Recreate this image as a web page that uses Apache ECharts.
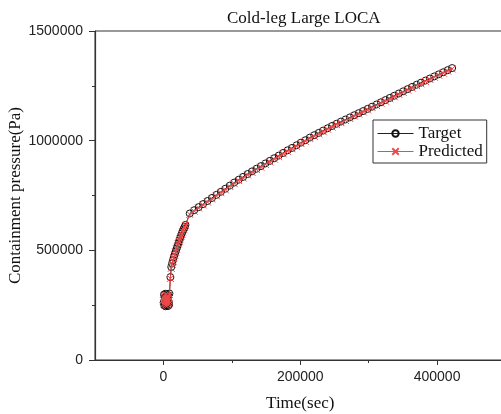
<!DOCTYPE html>
<html>
<head>
<meta charset="utf-8">
<script src="https://cdn.jsdelivr.net/npm/echarts@6/dist/echarts.min.js"></script>
<style>html,body{margin:0;padding:0;background:#fff;}#c{width:501px;height:414px;}</style>
</head>
<body>
<div id="c"></div>
<script>
var timeSec = [
  300, 800, 1300, 1800, 2300, 2800, 3300, 3800, 4300, 4800, 5300, 5800, 6300, 6800, 7300, 7800, 8300, 8800,
  10200, 11500,
  12700, 14000, 15300, 16600, 17900, 19200, 20500, 21800, 23100, 24400, 25700, 27000, 28300, 29600, 30900, 32200,
  38500, 45000, 51500, 58000, 64500, 71000, 77500, 84000, 90500, 97000,
  103500, 110000, 116500, 123000, 129500, 136000, 142500, 149000, 155500, 162000,
  168500, 175000, 181500, 188000, 194500, 201000, 207500, 214000, 220500, 227000,
  233500, 240000, 246500, 253000, 259500, 266000, 272500, 279000, 285500, 292000,
  298500, 305000, 311500, 318000, 324500, 331000, 337500, 344000, 350500, 357000,
  363500, 370000, 376500, 383000, 389500, 396000, 402500, 409000, 415500, 422000
];
var targetPa = [
  262000, 298000, 248000, 285000, 255000, 302000, 245000, 290000, 268000, 250000, 300000, 258000, 280000, 246000, 295000, 265000, 252000, 303000,
  378000, 424000,
  440000, 455000, 469000, 482000, 495000, 508000, 520000, 532000, 544000, 555000, 566000, 577000, 588000, 598000, 607000, 616000,
  668000, 683000, 697000, 711000, 725000, 739000, 753000, 767000, 781000, 795000,
  809000, 822000, 835000, 848000, 860000, 872000, 884000, 896000, 908000, 920000,
  932000, 944000, 956000, 967000, 979000, 991000, 1002000, 1014000, 1025000, 1035500,
  1046000, 1056500, 1067000, 1077000, 1087000, 1096500, 1106000, 1116000, 1125500, 1135000,
  1145000, 1155000, 1165000, 1175000, 1185000, 1195000, 1205000, 1215000, 1225000, 1235000,
  1245000, 1255000, 1264500, 1274000, 1283500, 1293000, 1302500, 1312000, 1321500, 1331000
];
var predictedPa = [
  270000, 290000, 255000, 278000, 262000, 296000, 250000, 284000, 274000, 256000, 294000, 264000, 276000, 252000, 290000, 270000, 258000, 298000,
  372000, 418000,
  436000, 451000, 466000, 479000, 492000, 505000, 517000, 529000, 541000, 552000, 563000, 574000, 585000, 595000, 604000, 613000,
  664000, 678000, 693000, 707000, 720000, 735000, 748000, 763000, 776000, 791000,
  804000, 818000, 830000, 844000, 855000, 868000, 879000, 892000, 903000, 916000,
  927000, 940000, 951000, 963000, 974000, 987000, 997000, 1010000, 1020000, 1031000,
  1041000, 1052000, 1062000, 1073000, 1082000, 1092000, 1101000, 1112000, 1121000, 1131000,
  1140000, 1151000, 1160000, 1171000, 1180000, 1191000, 1200000, 1211000, 1220000, 1231000,
  1240000, 1251000, 1259000, 1270000, 1279000, 1289000, 1298000, 1308000, 1317000, 1327000
];
var xMajorTicks = [0, 200000, 400000];
var xMinorTicks = [100000, 300000];
var seriesNames = ['Target', 'Predicted'];

function zip(xs, ys) { return xs.map(function (x, i) { return [x, ys[i]]; }); }
function plain(v) { return String(v); }

var serif = '"Liberation Serif", "Times New Roman", serif';
var sans = '"Liberation Sans", Arial, sans-serif';
var axisColor = '#333';
var red = '#f04848';

var chart = echarts.init(document.getElementById('c'), null, { renderer: 'canvas' });
chart.setOption({
  animation: false,
  backgroundColor: '#fff',
  title: {
    text: 'Cold-leg Large LOCA',
    left: 222, top: 5,
    textStyle: { fontFamily: serif, fontSize: 17, fontWeight: 'normal', color: '#111' }
  },
  legend: {
    orient: 'vertical',
    left: 373, top: 120,
    padding: [5, 4, 3, 4],
    itemGap: 1,
    itemWidth: 36, itemHeight: 8,
    borderColor: '#333', borderWidth: 1,
    lineStyle: { width: 1 },
    textStyle: { fontFamily: serif, fontSize: 17, color: '#111' },
    data: seriesNames
  },
  grid: {
    left: 95, top: 31, bottom: 54, right: -4.5,
    outerBoundsMode: 'none', containLabel: false,
    show: true, borderColor: axisColor, borderWidth: 1, backgroundColor: 'transparent'
  },
  xAxis: [{
    type: 'value', min: -100000, max: 500000,
    name: 'Time(sec)', nameLocation: 'middle', nameGap: 35, nameMoveOverlap: false,
    nameTextStyle: { fontFamily: serif, fontSize: 17, color: '#111' },
    axisLine: { show: true, onZero: false, lineStyle: { color: axisColor, width: 1.2 } },
    axisTick: { show: true, customValues: xMajorTicks, length: 5, lineStyle: { color: axisColor } },
    axisLabel: { customValues: xMajorTicks, formatter: plain, margin: 10, fontFamily: sans, fontSize: 14, color: '#222' },
    splitLine: { show: false }
  }, {
    type: 'value', min: -100000, max: 500000, position: 'bottom', offset: 0,
    axisLine: { show: false },
    axisTick: { show: true, customValues: xMinorTicks, length: 3, lineStyle: { color: axisColor } },
    axisLabel: { show: false },
    splitLine: { show: false }
  }],
  yAxis: {
    type: 'value', min: 0, max: 1500000, interval: 500000,
    name: 'Containment pressure(Pa)', nameLocation: 'middle', nameGap: 71, nameMoveOverlap: false,
    nameTextStyle: { fontFamily: serif, fontSize: 17, color: '#111' },
    axisLine: { show: true, onZero: false, lineStyle: { color: axisColor, width: 1.2 } },
    axisTick: { show: true, length: 6, lineStyle: { color: axisColor } },
    minorTick: { show: true, splitNumber: 2, length: 3, lineStyle: { color: axisColor } },
    axisLabel: { margin: 12, formatter: plain, fontFamily: sans, fontSize: 14, color: '#222' },
    splitLine: { show: false }
  },
  series: [{
    name: seriesNames[0], type: 'line', xAxisIndex: 0,
    data: zip(timeSec, targetPa),
    symbol: 'circle', symbolSize: 7,
    itemStyle: { color: 'rgba(255,255,255,0)', borderColor: '#111', borderWidth: 1 },
    lineStyle: { color: '#222', width: 1 },
    z: 2
  }, {
    name: seriesNames[1], type: 'line', xAxisIndex: 0,
    data: zip(timeSec, predictedPa),
    symbol: 'path://M0,0L10,10M10,0L0,10', symbolSize: 7,
    itemStyle: { color: red, borderColor: red, borderWidth: 1 },
    lineStyle: { color: red, width: 1 },
    z: 3
  }]
});
</script>
</body>
</html>
